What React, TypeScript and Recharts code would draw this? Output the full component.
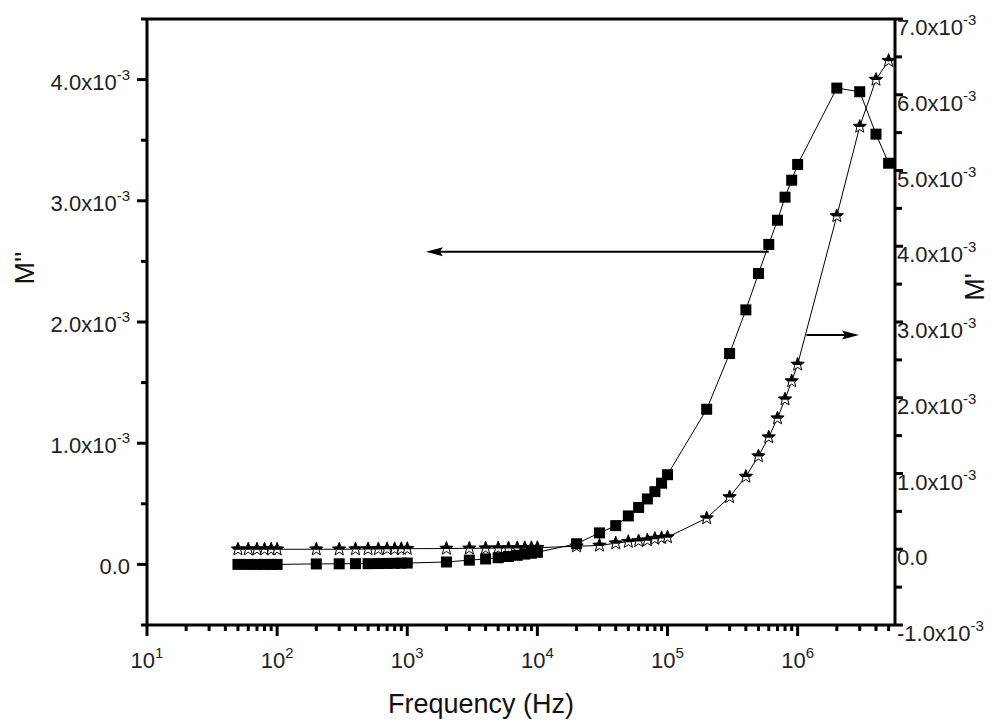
import React from "react";
import { LineChart, Line, XAxis, YAxis, ReferenceLine } from "recharts";

// frequency (Hz)
const freq = [
  50, 60, 70, 80, 90, 100,
  200, 300, 400, 500, 600, 700, 800, 900, 1000,
  2000, 3000, 4000, 5000, 6000, 7000, 8000, 9000, 10000,
  20000, 30000, 40000, 50000, 60000, 70000, 80000, 90000, 100000,
  200000, 300000, 400000, 500000, 600000, 700000, 800000, 900000, 1000000,
  2000000, 3000000, 4000000, 5000000,
];

// M'' in units of 10^-3 (squares, left axis)
const mDouble = [
  0.0, 0.0, 0.0, 0.0, 0.0, 0.0,
  0.004, 0.005, 0.006, 0.006, 0.007, 0.008, 0.009, 0.01, 0.011,
  0.02, 0.035, 0.045, 0.055, 0.065, 0.075, 0.085, 0.092, 0.1,
  0.17, 0.26, 0.32, 0.4, 0.47, 0.54, 0.6, 0.67, 0.74,
  1.28, 1.74, 2.1, 2.4, 2.64, 2.84, 3.03, 3.17, 3.3,
  3.93, 3.9, 3.55, 3.31,
];

// M' in units of 10^-3 (stars, right axis)
const mSingle = [
  0.0, 0.0, 0.0, 0.0, 0.0, 0.0,
  0.0, 0.0, 0.002, 0.003, 0.004, 0.005, 0.005, 0.006, 0.007,
  0.01, 0.012, 0.014, 0.015, 0.016, 0.017, 0.018, 0.019, 0.02,
  0.04, 0.05, 0.08, 0.1, 0.11, 0.12, 0.14, 0.15, 0.16,
  0.41, 0.69, 0.96, 1.23, 1.48, 1.73, 1.98, 2.22, 2.44,
  4.4, 5.58, 6.2, 6.45,
];

const xDecades = [10, 100, 1000, 10000, 100000, 1000000];
const xMinorSteps = [2, 3, 4, 5, 6, 7, 8, 9];
const leftTicks = [-0.5, 0, 0.5, 1, 1.5, 2, 2.5, 3, 3.5, 4, 4.5];
const rightTicks = [-1, -0.5, 0, 0.5, 1, 1.5, 2, 2.5, 3, 3.5, 4, 4.5, 5, 5.5, 6, 6.5, 7];

const X_MAX = 5.6e6;
const xTicks: number[] = [];
xDecades.forEach((d) => {
  xTicks.push(d);
  xMinorSteps.forEach((m) => {
    if (d * m <= X_MAX) xTicks.push(d * m);
  });
});

const data = freq.map((f, i) => ({ f, mpp: mDouble[i], mp: mSingle[i] }));

const FONT = "Arial, 'Liberation Sans', sans-serif";
const isMajor = (v: number) => Math.abs(v - Math.round(v)) < 1e-9;

const sciLabel = (v: number) => {
  if (v === 0) return { base: "0.0", exp: "" };
  return { base: `${v.toFixed(1)}x10`, exp: "-3" };
};

const LeftTick = (props: any) => {
  const { x, y, payload } = props;
  const v = payload.value;
  const major = isMajor(v);
  const lab = sciLabel(v);
  return (
    <g>
      <line x1={x} y1={y} x2={x - (major ? 10 : 6)} y2={y} stroke="#000" strokeWidth={3} />
      {major && (
        <text x={x - 17} y={y + 10} textAnchor="end" fontSize={22} fontFamily={FONT} fill="#222">
          {lab.base}
          {lab.exp && (
            <tspan dy={-10} fontSize={15}>
              {lab.exp}
            </tspan>
          )}
        </text>
      )}
    </g>
  );
};

const RightTick = (props: any) => {
  const { x, y, payload } = props;
  const v = payload.value;
  const major = isMajor(v);
  const lab = sciLabel(v);
  return (
    <g>
      <line x1={x} y1={y} x2={x + (major ? 8 : 7)} y2={y} stroke="#000" strokeWidth={3} />
      {major && (
        <text x={x + 2} y={y + 16} textAnchor="start" fontSize={22} fontFamily={FONT} fill="#222">
          {lab.base}
          {lab.exp && (
            <tspan dy={-10} fontSize={15}>
              {lab.exp}
            </tspan>
          )}
        </text>
      )}
    </g>
  );
};

const XTick = (props: any) => {
  const { x, y, payload } = props;
  const v = payload.value;
  const exp = Math.round(Math.log10(v));
  const major = Math.abs(Math.log10(v) - exp) < 1e-9;
  return (
    <g>
      <line x1={x} y1={y} x2={x} y2={y + (major ? 11 : 6)} stroke="#000" strokeWidth={3} />
      {major && (
        <text x={x} y={y + 43} textAnchor="middle" fontSize={22} fontFamily={FONT} fill="#222">
          10
          <tspan dy={-10} fontSize={15}>
            {exp}
          </tspan>
        </text>
      )}
    </g>
  );
};

const renderSquare = (props: any) => {
  const { cx, cy, index } = props;
  if (cx == null || cy == null) return <g key={`sq-${index}`} />;
  return <rect key={`sq-${index}`} x={cx - 5.5} y={cy - 5.5} width={11} height={11} fill="#000" />;
};

const starPath = (cx: number, cy: number, R: number, r: number) => {
  const pts: string[] = [];
  for (let i = 0; i < 10; i++) {
    const a = (-90 + i * 36) * (Math.PI / 180);
    const rad = i % 2 === 0 ? R : r;
    pts.push(`${(cx + rad * Math.cos(a)).toFixed(2)},${(cy + rad * Math.sin(a)).toFixed(2)}`);
  }
  return `M${pts.join("L")}Z`;
};

const renderStar = (props: any) => {
  const { cx, cy, index } = props;
  if (cx == null || cy == null) return <g key={`st-${index}`} />;
  const R = 7;
  const d = starPath(cx, cy, R, 3);
  const id = `star-clip-${index}`;
  return (
    <g key={`st-${index}`}>
      <clipPath id={id}>
        <rect x={cx - R - 2} y={cy - R - 2} width={2 * R + 4} height={R + 2.5} />
      </clipPath>
      <path d={d} fill="#fff" stroke="#000" strokeWidth={1} />
      <path d={d} fill="#000" clipPath={`url(#${id})`} />
    </g>
  );
};

const arrowShape = (props: any) => {
  const { x1, y1, x2, y2 } = props;
  const dx = x2 - x1;
  const dy = y2 - y1;
  const len = Math.hypot(dx, dy) || 1;
  const ux = dx / len;
  const uy = dy / len;
  const hl = 17;
  const hw = 4.5;
  const bx = x2 - ux * hl;
  const by = y2 - uy * hl;
  const nx = bx + ux * 3;
  const ny = by + uy * 3;
  return (
    <g>
      <line x1={x1} y1={y1} x2={nx} y2={ny} stroke="#000" strokeWidth={2} />
      <polygon
        points={`${x2},${y2} ${bx - uy * hw},${by + ux * hw} ${nx},${ny} ${bx + uy * hw},${by - ux * hw}`}
        fill="#000"
      />
    </g>
  );
};

const title = (text: string, x: number, y: number, angle: number) => () =>
  (
    <text
      x={x}
      y={y}
      textAnchor="middle"
      fontSize={27}
      fontFamily={FONT}
      fill="#111"
      transform={angle ? `rotate(${angle} ${x} ${y})` : undefined}
    >
      {text}
    </text>
  );

export default function App() {
  return (
    <div style={{ position: "absolute", left: 0, top: 0, background: "#fff" }}>
      <LineChart width={992} height={722} data={data} margin={{ top: 19, right: 0, bottom: 0, left: 0 }}>
        <XAxis
          dataKey="f"
          type="number"
          scale="log"
          domain={[10, X_MAX]}
          allowDataOverflow
          ticks={xTicks}
          interval={0}
          tickSize={0}
          tickMargin={0}
          height={97}
          tick={XTick}
          axisLine={{ stroke: "#000", strokeWidth: 3 }}
          label={{ content: title("Frequency (Hz)", 481, 713, 0) }}
        />
        <YAxis
          yAxisId="left"
          type="number"
          domain={[-0.5, 4.5]}
          allowDataOverflow
          ticks={leftTicks}
          interval={0}
          tickSize={0}
          tickMargin={0}
          width={147}
          tick={LeftTick}
          axisLine={{ stroke: "#000", strokeWidth: 3 }}
          label={{ content: title("M''", 34, 268, -90) }}
        />
        <YAxis
          yAxisId="right"
          orientation="right"
          type="number"
          domain={[-1, 7]}
          allowDataOverflow
          ticks={rightTicks}
          interval={0}
          tickSize={0}
          tickMargin={0}
          width={97}
          tick={RightTick}
          axisLine={{ stroke: "#000", strokeWidth: 3 }}
          label={{ content: title("M'", 984, 287, -90) }}
        />
        <ReferenceLine yAxisId="left" y={4.5} stroke="#000" strokeWidth={3} />
        <Line
          yAxisId="right"
          dataKey="mp"
          stroke="#000"
          strokeWidth={1}
          dot={renderStar}
          activeDot={false}
          isAnimationActive={false}
        />
        <Line
          yAxisId="left"
          dataKey="mpp"
          stroke="#000"
          strokeWidth={1}
          dot={renderSquare}
          activeDot={false}
          isAnimationActive={false}
        />
        <ReferenceLine
          yAxisId="left"
          segment={[
            { x: 6e5, y: 2.58 },
            { x: 1.39e3, y: 2.58 },
          ]}
          shape={arrowShape}
        />
        <ReferenceLine
          yAxisId="right"
          segment={[
            { x: 1.17e6, y: 2.83 },
            { x: 2.96e6, y: 2.83 },
          ]}
          shape={arrowShape}
        />
      </LineChart>
    </div>
  );
}
